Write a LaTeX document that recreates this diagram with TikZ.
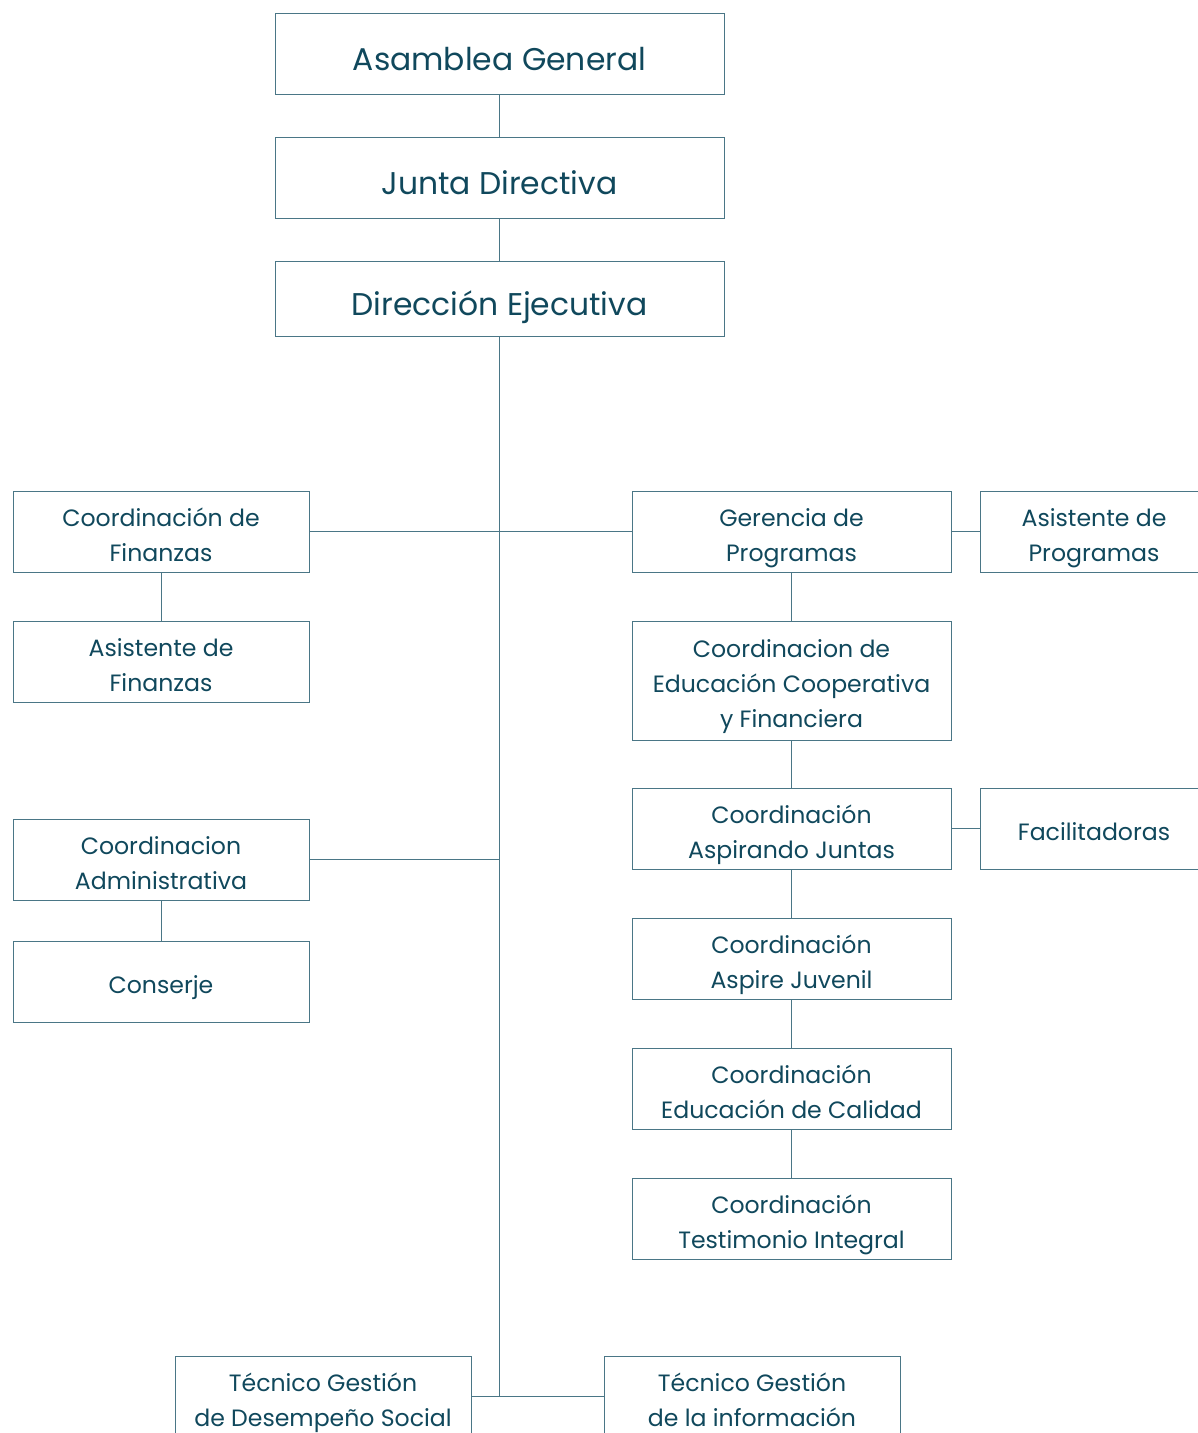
\documentclass[tikz,border=0pt]{standalone}
\usepackage{fontspec}
\setmainfont{Poppins}
\usetikzlibrary{positioning}

\definecolor{orgtext}{RGB}{16,72,92}
\definecolor{orgline}{RGB}{74,118,134}
% struts for the first and the last line of a box
\newcommand\orgtop{\rule{0pt}{34pt}}
\newcommand\orgbigtop{\rule{0pt}{43pt}}
\newcommand\orgbot{\rule[-10pt]{0pt}{10pt}}

\tikzset{
  box/.style={draw=orgline, line width=1pt, text=orgtext, align=center,
    inner sep=0pt, minimum height=81pt, font=\fontsize{23.6}{35}\selectfont},
  wbox/.style={box, minimum width=296pt},
  gbox/.style={box, minimum width=319pt},
  sbox/.style={box, minimum width=228pt},
  topbox/.style={box, minimum width=449pt, font=\fontsize{31.4}{35}\selectfont},
  link/.style={draw=orgline, line width=1pt}
}

\begin{document}
\begin{tikzpicture}[x=1pt,y=-1pt]
\useasboundingbox (0,0) rectangle (1198,1433);

% top of the chart
\node[topbox] (asam) at (499.5,53.5) {\orgbigtop Asamblea General\orgbot};
\node[topbox] (junta) at (499.5,177.5) {\orgbigtop Junta Directiva\orgbot};
\node[topbox, minimum height=75pt] (direc) at (499.5,298.5) {\orgbigtop Dirección Ejecutiva\orgbot};

% left side
\node[wbox] (cfin) at (161,531.5) {\orgtop Coordinación de\\Finanzas\orgbot};
\node[wbox] (afin) at (161,661.5) {\orgtop Asistente de\\Finanzas\orgbot};
\node[wbox] (cadm) at (161,859.5) {\orgtop Coordinacion\\Administrativa\orgbot};
\node[wbox] (conse) at (161,981.5) {\orgtop Conserje\orgbot};

% right side
\node[gbox] (gprog) at (791.5,531.5) {\orgtop Gerencia de\\Programas\orgbot};
\node[sbox] (aprog) at (1094,531.5) {\orgtop Asistente de\\Programas\orgbot};
\node[gbox, minimum height=119pt] (cedu) at (791.5,680.5) {\orgtop Coordinacion de\\Educación Cooperativa\\y Financiera\orgbot};
\node[gbox] (casp) at (791.5,828.5) {\orgtop Coordinación\\Aspirando Juntas\orgbot};
\node[sbox] (facil) at (1094,828.5) {\orgtop Facilitadoras\orgbot};
\node[gbox] (cjuv) at (791.5,958.5) {\orgtop Coordinación\\Aspire Juvenil\orgbot};
\node[gbox] (ccal) at (791.5,1088.5) {\orgtop Coordinación\\Educación de Calidad\orgbot};
\node[gbox] (ctes) at (791.5,1218.5) {\orgtop Coordinación\\Testimonio Integral\orgbot};

% bottom
\node[wbox] (tdes) at (323,1396.5) {\orgtop Técnico Gestión\\de Desempeño Social\orgbot};
\node[wbox] (tinf) at (752,1396.5) {\orgtop Técnico Gestión\\de la información\orgbot};

\draw[link] (asam) -- (junta);
\draw[link] (junta) -- (direc);
\draw[link] (direc.south) -- (direc.south |- tdes.east) coordinate (jbot);
\draw[link] (tdes.east) -- (tinf.west);
\draw[link] (cfin.east) -- (gprog.west);
\draw[link] (cadm.east) -- (cadm.east -| direc.south);
\draw[link] (cfin) -- (afin);
\draw[link] (cadm) -- (conse);
\draw[link] (gprog) -- (aprog);
\draw[link] (casp) -- (facil);
\draw[link] (gprog) -- (cedu);
\draw[link] (cedu) -- (casp);
\draw[link] (casp) -- (cjuv);
\draw[link] (cjuv) -- (ccal);
\draw[link] (ccal) -- (ctes);

\end{tikzpicture}
\end{document}
